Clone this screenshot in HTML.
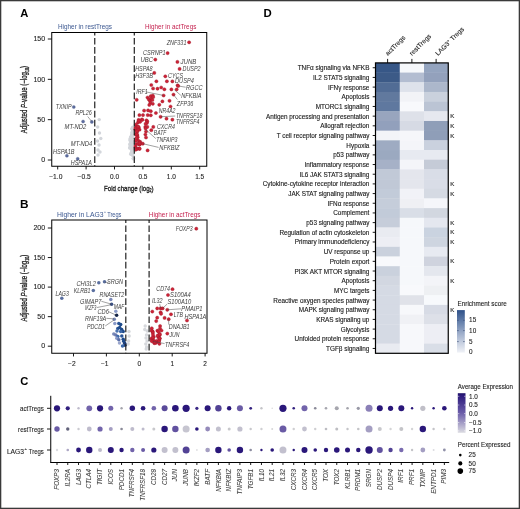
<!DOCTYPE html>
<html><head><meta charset="utf-8"><style>
html,body{margin:0;padding:0;background:#fff;}
svg{display:block;font-family:"Liberation Sans", sans-serif;will-change:transform;}
</style></head><body>
<svg width="520" height="509" viewBox="0 0 520 509" font-family='"Liberation Sans", sans-serif'>
<rect x="0" y="0" width="520" height="509" fill="#fff"/>
<text x="20.30" y="16.80" font-size="11.2" fill="#000" font-weight="bold">A</text>
<text x="19.90" y="208.20" font-size="11.8" fill="#000" font-weight="bold">B</text>
<text x="20.20" y="384.80" font-size="11.2" fill="#000" font-weight="bold">C</text>
<text x="263.40" y="17.30" font-size="11.4" fill="#000" font-weight="bold">D</text>
<defs><clipPath id="ca"><rect x="51.75" y="32.5" width="155.0" height="133.75"/></clipPath><clipPath id="cb"><rect x="51.75" y="220" width="155.25" height="133.25"/></clipPath></defs>
<text x="58.00" y="29.10" font-size="6.6" fill="#3b5790" textLength="54.00" lengthAdjust="spacingAndGlyphs">Higher in restTregs</text>
<text x="145.00" y="29.10" font-size="6.6" fill="#c41e4c" textLength="51.30" lengthAdjust="spacingAndGlyphs">Higher in actTregs</text>
<line x1="47.80" y1="160.00" x2="51.75" y2="160.00" stroke="#000" stroke-width="0.9"/>
<text x="45.10" y="162.20" font-size="7.0" fill="#222" text-anchor="end" stroke="#222" stroke-width="0.1">0</text>
<line x1="47.80" y1="119.66" x2="51.75" y2="119.66" stroke="#000" stroke-width="0.9"/>
<text x="45.10" y="121.86" font-size="7.0" fill="#222" text-anchor="end" stroke="#222" stroke-width="0.1">50</text>
<line x1="47.80" y1="79.33" x2="51.75" y2="79.33" stroke="#000" stroke-width="0.9"/>
<text x="45.10" y="81.53" font-size="7.0" fill="#222" text-anchor="end" stroke="#222" stroke-width="0.1">100</text>
<line x1="47.80" y1="39.00" x2="51.75" y2="39.00" stroke="#000" stroke-width="0.9"/>
<text x="45.10" y="41.20" font-size="7.0" fill="#222" text-anchor="end" stroke="#222" stroke-width="0.1">150</text>
<line x1="57.70" y1="166.25" x2="57.70" y2="169.45" stroke="#000" stroke-width="0.9"/>
<text x="49.15" y="178.50" font-size="6.5" fill="#222" textLength="13.30" lengthAdjust="spacingAndGlyphs" stroke="#222" stroke-width="0.1">−1.0</text>
<line x1="86.10" y1="166.25" x2="86.10" y2="169.45" stroke="#000" stroke-width="0.9"/>
<text x="77.55" y="178.50" font-size="6.5" fill="#222" textLength="13.30" lengthAdjust="spacingAndGlyphs" stroke="#222" stroke-width="0.1">−0.5</text>
<line x1="114.50" y1="166.25" x2="114.50" y2="169.45" stroke="#000" stroke-width="0.9"/>
<text x="114.50" y="178.50" font-size="6.5" fill="#222" text-anchor="middle" stroke="#222" stroke-width="0.1">0.0</text>
<line x1="142.90" y1="166.25" x2="142.90" y2="169.45" stroke="#000" stroke-width="0.9"/>
<text x="142.90" y="178.50" font-size="6.5" fill="#222" text-anchor="middle" stroke="#222" stroke-width="0.1">0.5</text>
<line x1="171.30" y1="166.25" x2="171.30" y2="169.45" stroke="#000" stroke-width="0.9"/>
<text x="171.30" y="178.50" font-size="6.5" fill="#222" text-anchor="middle" stroke="#222" stroke-width="0.1">1.0</text>
<line x1="199.70" y1="166.25" x2="199.70" y2="169.45" stroke="#000" stroke-width="0.9"/>
<text x="199.70" y="178.50" font-size="6.5" fill="#222" text-anchor="middle" stroke="#222" stroke-width="0.1">1.5</text>
<g transform="translate(104,190.8) scale(0.7851,1)"><text x="0" y="0" font-size="7.8" fill="#222" stroke="#222" stroke-width="0.32">Fold change (log<tspan font-size="4.68" dy="1.6">2</tspan><tspan dy="-1.6">)</tspan></text></g>
<g transform="translate(27.2,133.3) rotate(-90) scale(0.6917,1)"><text x="0" y="0" font-size="8.8" fill="#222" stroke="#222" stroke-width="0.32">Adjusted <tspan font-style="italic">P</tspan>-value (−log<tspan font-size="5.28" dy="1.8">10</tspan><tspan dy="-1.8">)</tspan></text></g>
<g clip-path="url(#ca)">
<circle cx="133.03" cy="137.52" r="1.70" fill="#d3d6db"/>
<circle cx="133.31" cy="148.16" r="1.70" fill="#d3d6db"/>
<circle cx="132.07" cy="144.42" r="1.70" fill="#d3d6db"/>
<circle cx="132.55" cy="128.88" r="1.70" fill="#d3d6db"/>
<circle cx="132.78" cy="128.22" r="1.70" fill="#d3d6db"/>
<circle cx="133.40" cy="129.27" r="1.70" fill="#d3d6db"/>
<circle cx="130.20" cy="140.80" r="1.70" fill="#d3d6db"/>
<circle cx="133.03" cy="131.02" r="1.70" fill="#d3d6db"/>
<circle cx="129.79" cy="147.39" r="1.70" fill="#d3d6db"/>
<circle cx="131.96" cy="145.76" r="1.70" fill="#d3d6db"/>
<circle cx="133.51" cy="158.73" r="1.70" fill="#d3d6db"/>
<circle cx="132.79" cy="154.90" r="1.70" fill="#d3d6db"/>
<circle cx="133.28" cy="131.69" r="1.70" fill="#d3d6db"/>
<circle cx="130.56" cy="137.03" r="1.70" fill="#d3d6db"/>
<circle cx="131.87" cy="132.87" r="1.70" fill="#d3d6db"/>
<circle cx="132.11" cy="147.76" r="1.70" fill="#d3d6db"/>
<circle cx="133.34" cy="144.80" r="1.70" fill="#d3d6db"/>
<circle cx="133.17" cy="128.94" r="1.70" fill="#d3d6db"/>
<circle cx="131.96" cy="149.11" r="1.70" fill="#d3d6db"/>
<circle cx="131.41" cy="137.21" r="1.70" fill="#d3d6db"/>
<circle cx="132.35" cy="141.73" r="1.70" fill="#d3d6db"/>
<circle cx="131.33" cy="152.82" r="1.70" fill="#d3d6db"/>
<circle cx="131.66" cy="134.93" r="1.70" fill="#d3d6db"/>
<circle cx="129.93" cy="144.07" r="1.70" fill="#d3d6db"/>
<circle cx="132.56" cy="150.71" r="1.70" fill="#d3d6db"/>
<circle cx="133.38" cy="158.86" r="1.70" fill="#d3d6db"/>
<circle cx="130.50" cy="140.59" r="1.70" fill="#d3d6db"/>
<circle cx="132.24" cy="131.94" r="1.70" fill="#d3d6db"/>
<circle cx="132.32" cy="128.27" r="1.70" fill="#d3d6db"/>
<circle cx="131.64" cy="151.85" r="1.70" fill="#d3d6db"/>
<circle cx="132.76" cy="155.45" r="1.70" fill="#d3d6db"/>
<circle cx="131.36" cy="149.60" r="1.70" fill="#d3d6db"/>
<circle cx="131.71" cy="145.85" r="1.70" fill="#d3d6db"/>
<circle cx="130.82" cy="154.30" r="1.70" fill="#d3d6db"/>
<circle cx="130.82" cy="142.41" r="1.70" fill="#d3d6db"/>
<circle cx="132.14" cy="128.97" r="1.70" fill="#d3d6db"/>
<circle cx="129.67" cy="148.03" r="1.70" fill="#d3d6db"/>
<circle cx="132.73" cy="153.71" r="1.70" fill="#d3d6db"/>
<circle cx="130.91" cy="139.54" r="1.70" fill="#d3d6db"/>
<circle cx="132.78" cy="127.73" r="1.70" fill="#d3d6db"/>
<circle cx="133.26" cy="132.46" r="1.70" fill="#d3d6db"/>
<circle cx="132.01" cy="128.92" r="1.70" fill="#d3d6db"/>
<circle cx="132.95" cy="131.20" r="1.70" fill="#d3d6db"/>
<circle cx="130.09" cy="139.71" r="1.70" fill="#d3d6db"/>
<circle cx="132.59" cy="129.62" r="1.70" fill="#d3d6db"/>
<circle cx="129.91" cy="144.86" r="1.70" fill="#d3d6db"/>
<circle cx="130.94" cy="153.63" r="1.70" fill="#d3d6db"/>
<circle cx="132.12" cy="136.05" r="1.70" fill="#d3d6db"/>
<circle cx="130.13" cy="138.66" r="1.70" fill="#d3d6db"/>
<circle cx="133.29" cy="158.13" r="1.70" fill="#d3d6db"/>
<circle cx="132.92" cy="132.73" r="1.70" fill="#d3d6db"/>
<circle cx="131.99" cy="134.58" r="1.70" fill="#d3d6db"/>
<circle cx="132.52" cy="146.15" r="1.70" fill="#d3d6db"/>
<circle cx="132.92" cy="127.13" r="1.70" fill="#d3d6db"/>
<circle cx="131.35" cy="139.00" r="1.70" fill="#d3d6db"/>
<circle cx="99.20" cy="119.60" r="1.70" fill="#d3d6db"/>
<circle cx="97.70" cy="127.00" r="1.70" fill="#d3d6db"/>
<circle cx="100.80" cy="138.50" r="1.70" fill="#d3d6db"/>
<circle cx="99.00" cy="145.00" r="1.70" fill="#d3d6db"/>
<circle cx="98.00" cy="150.00" r="1.70" fill="#d3d6db"/>
<circle cx="100.00" cy="152.00" r="1.70" fill="#d3d6db"/>
<circle cx="98.00" cy="155.00" r="1.70" fill="#d3d6db"/>
<circle cx="97.50" cy="141.00" r="1.70" fill="#d3d6db"/>
<circle cx="99.50" cy="133.00" r="1.70" fill="#d3d6db"/>
</g>
<g clip-path="url(#ca)">
<circle cx="189.10" cy="42.30" r="1.60" fill="#cc2336" stroke="#a01a2a" stroke-width="0.4"/>
<circle cx="167.60" cy="53.10" r="1.60" fill="#cc2336" stroke="#a01a2a" stroke-width="0.4"/>
<circle cx="155.30" cy="59.60" r="1.60" fill="#cc2336" stroke="#a01a2a" stroke-width="0.4"/>
<circle cx="177.40" cy="61.90" r="1.60" fill="#cc2336" stroke="#a01a2a" stroke-width="0.4"/>
<circle cx="179.60" cy="68.90" r="1.60" fill="#cc2336" stroke="#a01a2a" stroke-width="0.4"/>
<circle cx="154.30" cy="72.90" r="1.60" fill="#cc2336" stroke="#a01a2a" stroke-width="0.4"/>
<circle cx="165.30" cy="76.30" r="1.60" fill="#cc2336" stroke="#a01a2a" stroke-width="0.4"/>
<circle cx="156.40" cy="81.30" r="1.60" fill="#cc2336" stroke="#a01a2a" stroke-width="0.4"/>
<circle cx="166.90" cy="81.30" r="1.60" fill="#cc2336" stroke="#a01a2a" stroke-width="0.4"/>
<circle cx="172.40" cy="81.40" r="1.60" fill="#cc2336" stroke="#a01a2a" stroke-width="0.4"/>
<circle cx="151.30" cy="85.00" r="1.60" fill="#cc2336" stroke="#a01a2a" stroke-width="0.4"/>
<circle cx="153.10" cy="88.50" r="1.60" fill="#cc2336" stroke="#a01a2a" stroke-width="0.4"/>
<circle cx="157.50" cy="88.70" r="1.60" fill="#cc2336" stroke="#a01a2a" stroke-width="0.4"/>
<circle cx="161.20" cy="87.50" r="1.60" fill="#cc2336" stroke="#a01a2a" stroke-width="0.4"/>
<circle cx="164.40" cy="89.30" r="1.60" fill="#cc2336" stroke="#a01a2a" stroke-width="0.4"/>
<circle cx="171.40" cy="89.40" r="1.60" fill="#cc2336" stroke="#a01a2a" stroke-width="0.4"/>
<circle cx="177.60" cy="85.30" r="1.60" fill="#cc2336" stroke="#a01a2a" stroke-width="0.4"/>
<circle cx="176.70" cy="89.40" r="1.60" fill="#cc2336" stroke="#a01a2a" stroke-width="0.4"/>
<circle cx="178.20" cy="86.00" r="1.60" fill="#cc2336" stroke="#a01a2a" stroke-width="0.4"/>
<circle cx="163.60" cy="95.50" r="1.60" fill="#cc2336" stroke="#a01a2a" stroke-width="0.4"/>
<circle cx="173.50" cy="94.60" r="1.60" fill="#cc2336" stroke="#a01a2a" stroke-width="0.4"/>
<circle cx="136.70" cy="99.80" r="1.60" fill="#cc2336" stroke="#a01a2a" stroke-width="0.4"/>
<circle cx="162.40" cy="101.40" r="1.60" fill="#cc2336" stroke="#a01a2a" stroke-width="0.4"/>
<circle cx="159.30" cy="104.80" r="1.60" fill="#cc2336" stroke="#a01a2a" stroke-width="0.4"/>
<circle cx="169.50" cy="100.80" r="1.60" fill="#cc2336" stroke="#a01a2a" stroke-width="0.4"/>
<circle cx="170.50" cy="106.50" r="1.60" fill="#cc2336" stroke="#a01a2a" stroke-width="0.4"/>
<circle cx="147.50" cy="97.50" r="1.60" fill="#cc2336" stroke="#a01a2a" stroke-width="0.4"/>
<circle cx="150.70" cy="96.20" r="1.60" fill="#cc2336" stroke="#a01a2a" stroke-width="0.4"/>
<circle cx="152.80" cy="95.50" r="1.60" fill="#cc2336" stroke="#a01a2a" stroke-width="0.4"/>
<circle cx="148.80" cy="99.40" r="1.60" fill="#cc2336" stroke="#a01a2a" stroke-width="0.4"/>
<circle cx="151.20" cy="98.70" r="1.60" fill="#cc2336" stroke="#a01a2a" stroke-width="0.4"/>
<circle cx="153.20" cy="97.10" r="1.60" fill="#cc2336" stroke="#a01a2a" stroke-width="0.4"/>
<circle cx="150.00" cy="101.00" r="1.60" fill="#cc2336" stroke="#a01a2a" stroke-width="0.4"/>
<circle cx="152.40" cy="100.00" r="1.60" fill="#cc2336" stroke="#a01a2a" stroke-width="0.4"/>
<circle cx="150.40" cy="103.00" r="1.60" fill="#cc2336" stroke="#a01a2a" stroke-width="0.4"/>
<circle cx="152.80" cy="103.80" r="1.60" fill="#cc2336" stroke="#a01a2a" stroke-width="0.4"/>
<circle cx="149.30" cy="104.90" r="1.60" fill="#cc2336" stroke="#a01a2a" stroke-width="0.4"/>
<circle cx="144.10" cy="110.60" r="1.60" fill="#cc2336" stroke="#a01a2a" stroke-width="0.4"/>
<circle cx="148.10" cy="110.40" r="1.60" fill="#cc2336" stroke="#a01a2a" stroke-width="0.4"/>
<circle cx="150.80" cy="111.20" r="1.60" fill="#cc2336" stroke="#a01a2a" stroke-width="0.4"/>
<circle cx="155.90" cy="113.00" r="1.60" fill="#cc2336" stroke="#a01a2a" stroke-width="0.4"/>
<circle cx="139.40" cy="115.10" r="1.60" fill="#cc2336" stroke="#a01a2a" stroke-width="0.4"/>
<circle cx="143.00" cy="115.10" r="1.60" fill="#cc2336" stroke="#a01a2a" stroke-width="0.4"/>
<circle cx="147.70" cy="115.10" r="1.60" fill="#cc2336" stroke="#a01a2a" stroke-width="0.4"/>
<circle cx="150.80" cy="115.30" r="1.60" fill="#cc2336" stroke="#a01a2a" stroke-width="0.4"/>
<circle cx="160.60" cy="116.80" r="1.60" fill="#cc2336" stroke="#a01a2a" stroke-width="0.4"/>
<circle cx="166.50" cy="118.70" r="1.60" fill="#cc2336" stroke="#a01a2a" stroke-width="0.4"/>
<circle cx="172.40" cy="119.70" r="1.60" fill="#cc2336" stroke="#a01a2a" stroke-width="0.4"/>
<circle cx="138.60" cy="119.90" r="1.60" fill="#cc2336" stroke="#a01a2a" stroke-width="0.4"/>
<circle cx="141.80" cy="119.50" r="1.60" fill="#cc2336" stroke="#a01a2a" stroke-width="0.4"/>
<circle cx="146.50" cy="120.30" r="1.60" fill="#cc2336" stroke="#a01a2a" stroke-width="0.4"/>
<circle cx="147.30" cy="121.40" r="1.60" fill="#cc2336" stroke="#a01a2a" stroke-width="0.4"/>
<circle cx="140.20" cy="121.80" r="1.60" fill="#cc2336" stroke="#a01a2a" stroke-width="0.4"/>
<circle cx="137.90" cy="122.60" r="1.60" fill="#cc2336" stroke="#a01a2a" stroke-width="0.4"/>
<circle cx="146.90" cy="123.00" r="1.60" fill="#cc2336" stroke="#a01a2a" stroke-width="0.4"/>
<circle cx="135.90" cy="124.60" r="1.60" fill="#cc2336" stroke="#a01a2a" stroke-width="0.4"/>
<circle cx="137.90" cy="127.30" r="1.60" fill="#cc2336" stroke="#a01a2a" stroke-width="0.4"/>
<circle cx="145.30" cy="126.90" r="1.60" fill="#cc2336" stroke="#a01a2a" stroke-width="0.4"/>
<circle cx="147.30" cy="126.90" r="1.60" fill="#cc2336" stroke="#a01a2a" stroke-width="0.4"/>
<circle cx="153.30" cy="126.90" r="1.60" fill="#cc2336" stroke="#a01a2a" stroke-width="0.4"/>
<circle cx="151.30" cy="130.20" r="1.60" fill="#cc2336" stroke="#a01a2a" stroke-width="0.4"/>
<circle cx="142.40" cy="119.80" r="1.60" fill="#cc2336" stroke="#a01a2a" stroke-width="0.4"/>
<circle cx="145.60" cy="123.80" r="1.60" fill="#cc2336" stroke="#a01a2a" stroke-width="0.4"/>
<circle cx="145.60" cy="128.50" r="1.60" fill="#cc2336" stroke="#a01a2a" stroke-width="0.4"/>
<circle cx="146.00" cy="131.50" r="1.60" fill="#cc2336" stroke="#a01a2a" stroke-width="0.4"/>
<circle cx="145.40" cy="134.50" r="1.60" fill="#cc2336" stroke="#a01a2a" stroke-width="0.4"/>
<circle cx="146.00" cy="137.50" r="1.60" fill="#cc2336" stroke="#a01a2a" stroke-width="0.4"/>
<circle cx="142.80" cy="143.70" r="1.60" fill="#cc2336" stroke="#a01a2a" stroke-width="0.4"/>
<circle cx="147.60" cy="150.40" r="1.60" fill="#cc2336" stroke="#a01a2a" stroke-width="0.4"/>
<circle cx="138.80" cy="120.70" r="1.60" fill="#cc2336" stroke="#a01a2a" stroke-width="0.4"/>
<circle cx="140.16" cy="141.88" r="1.60" fill="#cc2336" stroke="#a01a2a" stroke-width="0.4"/>
<circle cx="137.93" cy="140.20" r="1.60" fill="#cc2336" stroke="#a01a2a" stroke-width="0.4"/>
<circle cx="138.75" cy="127.24" r="1.60" fill="#cc2336" stroke="#a01a2a" stroke-width="0.4"/>
<circle cx="139.89" cy="143.94" r="1.60" fill="#cc2336" stroke="#a01a2a" stroke-width="0.4"/>
<circle cx="139.76" cy="144.35" r="1.60" fill="#cc2336" stroke="#a01a2a" stroke-width="0.4"/>
<circle cx="137.30" cy="135.18" r="1.60" fill="#cc2336" stroke="#a01a2a" stroke-width="0.4"/>
<circle cx="135.83" cy="140.59" r="1.60" fill="#cc2336" stroke="#a01a2a" stroke-width="0.4"/>
<circle cx="135.62" cy="127.55" r="1.60" fill="#cc2336" stroke="#a01a2a" stroke-width="0.4"/>
<circle cx="136.36" cy="129.73" r="1.60" fill="#cc2336" stroke="#a01a2a" stroke-width="0.4"/>
<circle cx="137.03" cy="127.21" r="1.60" fill="#cc2336" stroke="#a01a2a" stroke-width="0.4"/>
<circle cx="135.30" cy="129.48" r="1.60" fill="#cc2336" stroke="#a01a2a" stroke-width="0.4"/>
<circle cx="135.82" cy="134.36" r="1.60" fill="#cc2336" stroke="#a01a2a" stroke-width="0.4"/>
<circle cx="135.43" cy="146.11" r="1.60" fill="#cc2336" stroke="#a01a2a" stroke-width="0.4"/>
<circle cx="138.43" cy="129.42" r="1.60" fill="#cc2336" stroke="#a01a2a" stroke-width="0.4"/>
<circle cx="136.59" cy="133.99" r="1.60" fill="#cc2336" stroke="#a01a2a" stroke-width="0.4"/>
<circle cx="137.16" cy="128.83" r="1.60" fill="#cc2336" stroke="#a01a2a" stroke-width="0.4"/>
<circle cx="139.63" cy="148.84" r="1.60" fill="#cc2336" stroke="#a01a2a" stroke-width="0.4"/>
<circle cx="137.68" cy="137.13" r="1.60" fill="#cc2336" stroke="#a01a2a" stroke-width="0.4"/>
<circle cx="135.74" cy="128.35" r="1.60" fill="#cc2336" stroke="#a01a2a" stroke-width="0.4"/>
<circle cx="137.05" cy="132.09" r="1.60" fill="#cc2336" stroke="#a01a2a" stroke-width="0.4"/>
<circle cx="139.53" cy="129.71" r="1.60" fill="#cc2336" stroke="#a01a2a" stroke-width="0.4"/>
<circle cx="135.42" cy="147.87" r="1.60" fill="#cc2336" stroke="#a01a2a" stroke-width="0.4"/>
<circle cx="137.99" cy="129.37" r="1.60" fill="#cc2336" stroke="#a01a2a" stroke-width="0.4"/>
<circle cx="138.07" cy="126.62" r="1.60" fill="#cc2336" stroke="#a01a2a" stroke-width="0.4"/>
<circle cx="137.99" cy="148.51" r="1.60" fill="#cc2336" stroke="#a01a2a" stroke-width="0.4"/>
<circle cx="139.70" cy="142.01" r="1.60" fill="#cc2336" stroke="#a01a2a" stroke-width="0.4"/>
<circle cx="136.63" cy="134.43" r="1.60" fill="#cc2336" stroke="#a01a2a" stroke-width="0.4"/>
<circle cx="136.15" cy="143.75" r="1.60" fill="#cc2336" stroke="#a01a2a" stroke-width="0.4"/>
<circle cx="138.02" cy="143.92" r="1.60" fill="#cc2336" stroke="#a01a2a" stroke-width="0.4"/>
<circle cx="136.98" cy="131.13" r="1.60" fill="#cc2336" stroke="#a01a2a" stroke-width="0.4"/>
<circle cx="139.44" cy="148.65" r="1.60" fill="#cc2336" stroke="#a01a2a" stroke-width="0.4"/>
<circle cx="139.65" cy="144.54" r="1.60" fill="#cc2336" stroke="#a01a2a" stroke-width="0.4"/>
<circle cx="139.47" cy="143.02" r="1.60" fill="#cc2336" stroke="#a01a2a" stroke-width="0.4"/>
<circle cx="136.46" cy="137.91" r="1.60" fill="#cc2336" stroke="#a01a2a" stroke-width="0.4"/>
<circle cx="136.74" cy="149.07" r="1.60" fill="#cc2336" stroke="#a01a2a" stroke-width="0.4"/>
<circle cx="135.60" cy="149.70" r="1.60" fill="#cc2336" stroke="#a01a2a" stroke-width="0.4"/>
</g>
<circle cx="73.80" cy="107.00" r="1.55" fill="#5d6c9e" stroke="#445484" stroke-width="0.3"/>
<circle cx="83.10" cy="121.50" r="1.55" fill="#5d6c9e" stroke="#445484" stroke-width="0.3"/>
<circle cx="91.80" cy="121.90" r="1.55" fill="#5d6c9e" stroke="#445484" stroke-width="0.3"/>
<circle cx="66.90" cy="155.80" r="1.55" fill="#5d6c9e" stroke="#445484" stroke-width="0.3"/>
<circle cx="77.70" cy="158.80" r="1.55" fill="#5d6c9e" stroke="#445484" stroke-width="0.3"/>
<line x1="94.75" y1="32.50" x2="94.75" y2="166.25" stroke="#222" stroke-width="1.2" stroke-dasharray="6.7 2.4" stroke-dashoffset="3.7"/>
<line x1="134.30" y1="32.50" x2="134.30" y2="166.25" stroke="#222" stroke-width="1.2" stroke-dasharray="6.7 2.4" stroke-dashoffset="3.7"/>
<line x1="87.70" y1="116.50" x2="91.60" y2="121.30" stroke="#444" stroke-width="0.5"/>
<line x1="145.50" y1="91.80" x2="163.40" y2="95.40" stroke="#444" stroke-width="0.5"/>
<line x1="174.40" y1="89.80" x2="180.90" y2="95.40" stroke="#444" stroke-width="0.5"/>
<line x1="173.60" y1="94.80" x2="177.40" y2="99.60" stroke="#444" stroke-width="0.5"/>
<line x1="161.00" y1="116.70" x2="175.20" y2="116.00" stroke="#444" stroke-width="0.5"/>
<line x1="146.00" y1="129.80" x2="155.80" y2="138.60" stroke="#444" stroke-width="0.5"/>
<line x1="142.80" y1="143.70" x2="158.60" y2="147.40" stroke="#444" stroke-width="0.5"/>
<line x1="179.50" y1="86.20" x2="185.60" y2="87.20" stroke="#444" stroke-width="0.5"/>
<text x="166.80" y="44.55" font-size="6.3" fill="#404040" font-style="italic" textLength="19.60" lengthAdjust="spacingAndGlyphs">ZNF331</text>
<text x="143.00" y="55.35" font-size="6.3" fill="#404040" font-style="italic" textLength="22.50" lengthAdjust="spacingAndGlyphs">CSRNP1</text>
<text x="140.50" y="62.05" font-size="6.3" fill="#404040" font-style="italic" textLength="12.50" lengthAdjust="spacingAndGlyphs">UBC</text>
<text x="180.50" y="64.35" font-size="6.3" fill="#404040" font-style="italic" textLength="15.80" lengthAdjust="spacingAndGlyphs">JUNB</text>
<text x="182.50" y="71.05" font-size="6.3" fill="#404040" font-style="italic" textLength="18.10" lengthAdjust="spacingAndGlyphs">DUSP2</text>
<text x="135.20" y="71.05" font-size="6.3" fill="#404040" font-style="italic" textLength="17.40" lengthAdjust="spacingAndGlyphs">HSPA8</text>
<text x="135.20" y="78.45" font-size="6.3" fill="#404040" font-style="italic" textLength="17.80" lengthAdjust="spacingAndGlyphs">H3F3B</text>
<text x="168.00" y="77.85" font-size="6.3" fill="#404040" font-style="italic" textLength="15.00" lengthAdjust="spacingAndGlyphs">CYCS</text>
<text x="175.00" y="82.95" font-size="6.3" fill="#404040" font-style="italic" textLength="18.80" lengthAdjust="spacingAndGlyphs">DUSP4</text>
<text x="186.00" y="89.75" font-size="6.3" fill="#404040" font-style="italic" textLength="16.60" lengthAdjust="spacingAndGlyphs">RGCC</text>
<text x="136.20" y="94.45" font-size="6.3" fill="#404040" font-style="italic" textLength="11.40" lengthAdjust="spacingAndGlyphs">IRF1</text>
<text x="181.20" y="98.25" font-size="6.3" fill="#404040" font-style="italic" textLength="20.40" lengthAdjust="spacingAndGlyphs">NFKBIA</text>
<text x="176.80" y="105.55" font-size="6.3" fill="#404040" font-style="italic" textLength="16.50" lengthAdjust="spacingAndGlyphs">ZFP36</text>
<text x="158.80" y="113.25" font-size="6.3" fill="#404040" font-style="italic" textLength="16.70" lengthAdjust="spacingAndGlyphs">NR4A2</text>
<text x="175.90" y="117.85" font-size="6.3" fill="#404040" font-style="italic" textLength="26.50" lengthAdjust="spacingAndGlyphs">TNFRSF18</text>
<text x="175.90" y="124.25" font-size="6.3" fill="#404040" font-style="italic" textLength="23.60" lengthAdjust="spacingAndGlyphs">TNFRSF4</text>
<text x="157.00" y="129.25" font-size="6.3" fill="#404040" font-style="italic" textLength="18.00" lengthAdjust="spacingAndGlyphs">CXCR4</text>
<text x="153.80" y="134.75" font-size="6.3" fill="#404040" font-style="italic" textLength="12.50" lengthAdjust="spacingAndGlyphs">BATF</text>
<text x="156.30" y="141.55" font-size="6.3" fill="#404040" font-style="italic" textLength="21.20" lengthAdjust="spacingAndGlyphs">TNFAIP3</text>
<text x="159.30" y="150.25" font-size="6.3" fill="#404040" font-style="italic" textLength="20.30" lengthAdjust="spacingAndGlyphs">NFKBIZ</text>
<text x="55.80" y="109.25" font-size="6.3" fill="#404040" font-style="italic" textLength="15.70" lengthAdjust="spacingAndGlyphs">TXNIP</text>
<text x="75.40" y="114.95" font-size="6.3" fill="#404040" font-style="italic" textLength="16.40" lengthAdjust="spacingAndGlyphs">RPL26</text>
<text x="64.60" y="129.05" font-size="6.3" fill="#404040" font-style="italic" textLength="21.60" lengthAdjust="spacingAndGlyphs">MT-ND2</text>
<text x="70.80" y="146.45" font-size="6.3" fill="#404040" font-style="italic" textLength="21.50" lengthAdjust="spacingAndGlyphs">MT-ND4</text>
<text x="53.00" y="153.85" font-size="6.3" fill="#404040" font-style="italic" textLength="21.60" lengthAdjust="spacingAndGlyphs">HSPA1B</text>
<text x="70.80" y="164.95" font-size="6.3" fill="#404040" font-style="italic" textLength="21.00" lengthAdjust="spacingAndGlyphs">HSPA1A</text>
<rect x="51.75" y="32.50" width="155.00" height="133.75" fill="none" stroke="#000" stroke-width="1.0"/>
<text x="57.00" y="216.60" font-size="6.6" fill="#3b5790" textLength="46.50" lengthAdjust="spacingAndGlyphs">Higher in LAG3</text>
<text x="103.80" y="213.30" font-size="4.2" fill="#3b5790">+</text>
<text x="107.20" y="216.60" font-size="6.6" fill="#3b5790" textLength="14.20" lengthAdjust="spacingAndGlyphs">Tregs</text>
<text x="148.80" y="216.60" font-size="6.6" fill="#c41e4c" textLength="51.70" lengthAdjust="spacingAndGlyphs">Higher in actTregs</text>
<line x1="47.80" y1="346.20" x2="51.75" y2="346.20" stroke="#000" stroke-width="0.9"/>
<text x="45.10" y="348.40" font-size="7.0" fill="#222" text-anchor="end" stroke="#222" stroke-width="0.1">0</text>
<line x1="47.80" y1="316.65" x2="51.75" y2="316.65" stroke="#000" stroke-width="0.9"/>
<text x="45.10" y="318.85" font-size="7.0" fill="#222" text-anchor="end" stroke="#222" stroke-width="0.1">50</text>
<line x1="47.80" y1="287.10" x2="51.75" y2="287.10" stroke="#000" stroke-width="0.9"/>
<text x="45.10" y="289.30" font-size="7.0" fill="#222" text-anchor="end" stroke="#222" stroke-width="0.1">100</text>
<line x1="47.80" y1="257.55" x2="51.75" y2="257.55" stroke="#000" stroke-width="0.9"/>
<text x="45.10" y="259.75" font-size="7.0" fill="#222" text-anchor="end" stroke="#222" stroke-width="0.1">150</text>
<line x1="47.80" y1="228.00" x2="51.75" y2="228.00" stroke="#000" stroke-width="0.9"/>
<text x="45.10" y="230.20" font-size="7.0" fill="#222" text-anchor="end" stroke="#222" stroke-width="0.1">200</text>
<line x1="73.50" y1="353.25" x2="73.50" y2="356.45" stroke="#000" stroke-width="0.9"/>
<text x="68.00" y="366.20" font-size="6.5" fill="#222" textLength="7.60" lengthAdjust="spacingAndGlyphs" stroke="#222" stroke-width="0.1">−2</text>
<line x1="106.40" y1="353.25" x2="106.40" y2="356.45" stroke="#000" stroke-width="0.9"/>
<text x="100.90" y="366.20" font-size="6.5" fill="#222" textLength="7.60" lengthAdjust="spacingAndGlyphs" stroke="#222" stroke-width="0.1">−1</text>
<line x1="139.30" y1="353.25" x2="139.30" y2="356.45" stroke="#000" stroke-width="0.9"/>
<text x="139.30" y="366.20" font-size="6.5" fill="#222" text-anchor="middle" stroke="#222" stroke-width="0.1">0</text>
<line x1="172.20" y1="353.25" x2="172.20" y2="356.45" stroke="#000" stroke-width="0.9"/>
<text x="172.20" y="366.20" font-size="6.5" fill="#222" text-anchor="middle" stroke="#222" stroke-width="0.1">1</text>
<line x1="205.10" y1="353.25" x2="205.10" y2="356.45" stroke="#000" stroke-width="0.9"/>
<text x="205.10" y="366.20" font-size="6.5" fill="#222" text-anchor="middle" stroke="#222" stroke-width="0.1">2</text>
<g transform="translate(27.0,321.5) rotate(-90) scale(0.6845,1)"><text x="0" y="0" font-size="8.8" fill="#222" stroke="#222" stroke-width="0.32">Adjusted <tspan font-style="italic">P</tspan>-value (−log<tspan font-size="5.28" dy="1.8">10</tspan><tspan dy="-1.8">)</tspan></text></g>
<g clip-path="url(#cb)">
<circle cx="145.20" cy="326.00" r="1.70" fill="#d6d8dc"/>
<circle cx="146.50" cy="335.00" r="1.70" fill="#d6d8dc"/>
<circle cx="146.00" cy="338.00" r="1.70" fill="#d6d8dc"/>
<circle cx="147.00" cy="341.00" r="1.70" fill="#d6d8dc"/>
<circle cx="145.80" cy="344.00" r="1.70" fill="#d6d8dc"/>
<circle cx="146.60" cy="347.00" r="1.70" fill="#d6d8dc"/>
<circle cx="147.20" cy="331.00" r="1.70" fill="#d6d8dc"/>
<circle cx="144.80" cy="329.50" r="1.70" fill="#d6d8dc"/>
<circle cx="146.20" cy="349.00" r="1.70" fill="#d6d8dc"/>
<circle cx="129.00" cy="331.50" r="1.70" fill="#d6d8dc"/>
<circle cx="128.60" cy="341.00" r="1.70" fill="#d6d8dc"/>
<circle cx="128.20" cy="344.00" r="1.70" fill="#d6d8dc"/>
<circle cx="129.20" cy="336.00" r="1.70" fill="#d6d8dc"/>
</g>
<g clip-path="url(#cb)">
<circle cx="196.30" cy="228.70" r="1.60" fill="#cc2336" stroke="#a01a2a" stroke-width="0.4"/>
<circle cx="172.50" cy="289.20" r="1.60" fill="#cc2336" stroke="#a01a2a" stroke-width="0.4"/>
<circle cx="168.00" cy="295.00" r="1.60" fill="#cc2336" stroke="#a01a2a" stroke-width="0.4"/>
<circle cx="157.20" cy="308.40" r="1.60" fill="#cc2336" stroke="#a01a2a" stroke-width="0.4"/>
<circle cx="160.60" cy="308.40" r="1.60" fill="#cc2336" stroke="#a01a2a" stroke-width="0.4"/>
<circle cx="162.60" cy="308.40" r="1.60" fill="#cc2336" stroke="#a01a2a" stroke-width="0.4"/>
<circle cx="152.30" cy="311.60" r="1.60" fill="#cc2336" stroke="#a01a2a" stroke-width="0.4"/>
<circle cx="160.60" cy="312.30" r="1.60" fill="#cc2336" stroke="#a01a2a" stroke-width="0.4"/>
<circle cx="161.10" cy="313.80" r="1.60" fill="#cc2336" stroke="#a01a2a" stroke-width="0.4"/>
<circle cx="167.30" cy="309.80" r="1.60" fill="#cc2336" stroke="#a01a2a" stroke-width="0.4"/>
<circle cx="171.00" cy="314.30" r="1.60" fill="#cc2336" stroke="#a01a2a" stroke-width="0.4"/>
<circle cx="187.00" cy="320.50" r="1.60" fill="#cc2336" stroke="#a01a2a" stroke-width="0.4"/>
<circle cx="157.20" cy="317.70" r="1.60" fill="#cc2336" stroke="#a01a2a" stroke-width="0.4"/>
<circle cx="164.60" cy="317.90" r="1.60" fill="#cc2336" stroke="#a01a2a" stroke-width="0.4"/>
<circle cx="168.70" cy="319.20" r="1.60" fill="#cc2336" stroke="#a01a2a" stroke-width="0.4"/>
<circle cx="156.20" cy="321.10" r="1.60" fill="#cc2336" stroke="#a01a2a" stroke-width="0.4"/>
<circle cx="160.10" cy="326.00" r="1.60" fill="#cc2336" stroke="#a01a2a" stroke-width="0.4"/>
<circle cx="167.30" cy="333.60" r="1.60" fill="#cc2336" stroke="#a01a2a" stroke-width="0.4"/>
<circle cx="158.20" cy="337.10" r="1.60" fill="#cc2336" stroke="#a01a2a" stroke-width="0.4"/>
<circle cx="160.00" cy="328.50" r="1.60" fill="#cc2336" stroke="#a01a2a" stroke-width="0.4"/>
<circle cx="161.50" cy="330.50" r="1.60" fill="#cc2336" stroke="#a01a2a" stroke-width="0.4"/>
<circle cx="152.96" cy="339.08" r="1.60" fill="#cc2336" stroke="#a01a2a" stroke-width="0.4"/>
<circle cx="159.59" cy="335.16" r="1.60" fill="#cc2336" stroke="#a01a2a" stroke-width="0.4"/>
<circle cx="159.40" cy="343.81" r="1.60" fill="#cc2336" stroke="#a01a2a" stroke-width="0.4"/>
<circle cx="159.57" cy="333.83" r="1.60" fill="#cc2336" stroke="#a01a2a" stroke-width="0.4"/>
<circle cx="152.59" cy="331.63" r="1.60" fill="#cc2336" stroke="#a01a2a" stroke-width="0.4"/>
<circle cx="152.37" cy="331.27" r="1.60" fill="#cc2336" stroke="#a01a2a" stroke-width="0.4"/>
<circle cx="156.43" cy="342.40" r="1.60" fill="#cc2336" stroke="#a01a2a" stroke-width="0.4"/>
<circle cx="158.48" cy="335.67" r="1.60" fill="#cc2336" stroke="#a01a2a" stroke-width="0.4"/>
<circle cx="156.70" cy="340.79" r="1.60" fill="#cc2336" stroke="#a01a2a" stroke-width="0.4"/>
<circle cx="151.31" cy="338.57" r="1.60" fill="#cc2336" stroke="#a01a2a" stroke-width="0.4"/>
<circle cx="159.14" cy="340.52" r="1.60" fill="#cc2336" stroke="#a01a2a" stroke-width="0.4"/>
<circle cx="157.63" cy="335.65" r="1.60" fill="#cc2336" stroke="#a01a2a" stroke-width="0.4"/>
<circle cx="152.20" cy="340.63" r="1.60" fill="#cc2336" stroke="#a01a2a" stroke-width="0.4"/>
<circle cx="153.66" cy="340.81" r="1.60" fill="#cc2336" stroke="#a01a2a" stroke-width="0.4"/>
<circle cx="159.73" cy="334.33" r="1.60" fill="#cc2336" stroke="#a01a2a" stroke-width="0.4"/>
<circle cx="154.31" cy="343.15" r="1.60" fill="#cc2336" stroke="#a01a2a" stroke-width="0.4"/>
<circle cx="157.39" cy="330.72" r="1.60" fill="#cc2336" stroke="#a01a2a" stroke-width="0.4"/>
<circle cx="151.71" cy="330.42" r="1.60" fill="#cc2336" stroke="#a01a2a" stroke-width="0.4"/>
<circle cx="159.10" cy="340.90" r="1.60" fill="#cc2336" stroke="#a01a2a" stroke-width="0.4"/>
<circle cx="151.89" cy="341.22" r="1.60" fill="#cc2336" stroke="#a01a2a" stroke-width="0.4"/>
<circle cx="159.81" cy="338.52" r="1.60" fill="#cc2336" stroke="#a01a2a" stroke-width="0.4"/>
<circle cx="153.83" cy="336.78" r="1.60" fill="#cc2336" stroke="#a01a2a" stroke-width="0.4"/>
<circle cx="151.74" cy="328.23" r="1.60" fill="#cc2336" stroke="#a01a2a" stroke-width="0.4"/>
<circle cx="159.72" cy="338.39" r="1.60" fill="#cc2336" stroke="#a01a2a" stroke-width="0.4"/>
<circle cx="155.50" cy="342.94" r="1.60" fill="#cc2336" stroke="#a01a2a" stroke-width="0.4"/>
<circle cx="154.62" cy="341.95" r="1.60" fill="#cc2336" stroke="#a01a2a" stroke-width="0.4"/>
<circle cx="158.35" cy="331.38" r="1.60" fill="#cc2336" stroke="#a01a2a" stroke-width="0.4"/>
<circle cx="152.89" cy="332.69" r="1.60" fill="#cc2336" stroke="#a01a2a" stroke-width="0.4"/>
<circle cx="152.79" cy="337.38" r="1.60" fill="#cc2336" stroke="#a01a2a" stroke-width="0.4"/>
<circle cx="152.96" cy="334.70" r="1.60" fill="#cc2336" stroke="#a01a2a" stroke-width="0.4"/>
</g>
<circle cx="61.80" cy="298.30" r="1.75" fill="#5a6fa0"/>
<circle cx="93.30" cy="290.50" r="1.75" fill="#5a6fa0"/>
<circle cx="98.80" cy="282.80" r="1.75" fill="#5a6fa0"/>
<circle cx="104.50" cy="281.80" r="1.75" fill="#5a6fa0"/>
<circle cx="110.80" cy="299.50" r="1.75" fill="#7a88b8"/>
<circle cx="111.60" cy="304.30" r="1.75" fill="#3a4f80"/>
<circle cx="115.80" cy="311.30" r="1.75" fill="#8a9ac8"/>
<circle cx="116.60" cy="315.30" r="1.75" fill="#15254a"/>
<circle cx="114.30" cy="319.20" r="1.75" fill="#7a8ab8"/>
<circle cx="114.80" cy="323.60" r="1.75" fill="#8a9ac8"/>
<circle cx="118.80" cy="323.60" r="1.75" fill="#2a5597"/>
<circle cx="120.70" cy="324.60" r="1.75" fill="#1e4a8a"/>
<circle cx="117.80" cy="328.50" r="1.75" fill="#2a5597"/>
<circle cx="119.70" cy="327.50" r="1.75" fill="#1e4a8a"/>
<circle cx="121.70" cy="329.50" r="1.75" fill="#1e4a8a"/>
<circle cx="123.20" cy="331.50" r="1.75" fill="#1e4a8a"/>
<circle cx="120.70" cy="331.50" r="1.75" fill="#3a66a8"/>
<circle cx="113.80" cy="333.90" r="1.75" fill="#7a8ab8"/>
<circle cx="115.80" cy="334.90" r="1.75" fill="#6a7ab0"/>
<circle cx="117.80" cy="336.40" r="1.75" fill="#3a66a8"/>
<circle cx="116.80" cy="338.30" r="1.75" fill="#8a9ac8"/>
<circle cx="118.80" cy="339.80" r="1.75" fill="#5a6fa8"/>
<circle cx="123.20" cy="339.30" r="1.75" fill="#1e4a8a"/>
<circle cx="123.70" cy="341.30" r="1.75" fill="#1e4a8a"/>
<circle cx="124.70" cy="343.30" r="1.75" fill="#1e3f7a"/>
<circle cx="125.00" cy="345.20" r="1.75" fill="#1e3f7a"/>
<circle cx="121.80" cy="336.00" r="1.75" fill="#2a5597"/>
<circle cx="119.50" cy="343.00" r="1.75" fill="#9aa6cc"/>
<circle cx="122.50" cy="346.00" r="1.75" fill="#3a66a8"/>
<circle cx="117.00" cy="331.00" r="1.75" fill="#4a72b0"/>
<line x1="125.80" y1="220.00" x2="125.80" y2="353.25" stroke="#222" stroke-width="1.2" stroke-dasharray="6.7 2.4" stroke-dashoffset="3.7"/>
<line x1="149.10" y1="220.00" x2="149.10" y2="353.25" stroke="#222" stroke-width="1.2" stroke-dasharray="6.7 2.4" stroke-dashoffset="3.7"/>
<line x1="101.40" y1="301.30" x2="111.00" y2="304.00" stroke="#444" stroke-width="0.5"/>
<line x1="96.60" y1="307.60" x2="110.80" y2="304.80" stroke="#444" stroke-width="0.5"/>
<line x1="108.80" y1="311.80" x2="115.80" y2="315.00" stroke="#444" stroke-width="0.5"/>
<line x1="106.40" y1="318.30" x2="114.00" y2="318.90" stroke="#444" stroke-width="0.5"/>
<line x1="105.20" y1="326.00" x2="114.30" y2="319.80" stroke="#444" stroke-width="0.5"/>
<line x1="159.70" y1="304.00" x2="160.60" y2="308.40" stroke="#444" stroke-width="0.5"/>
<line x1="167.20" y1="304.00" x2="162.60" y2="308.40" stroke="#444" stroke-width="0.5"/>
<line x1="167.30" y1="309.80" x2="181.00" y2="308.80" stroke="#444" stroke-width="0.5"/>
<line x1="168.70" y1="319.20" x2="168.70" y2="324.60" stroke="#444" stroke-width="0.5"/>
<line x1="152.80" y1="341.30" x2="164.60" y2="343.60" stroke="#444" stroke-width="0.5"/>
<line x1="108.60" y1="282.80" x2="104.60" y2="282.00" stroke="#444" stroke-width="0.5"/>
<text x="175.80" y="231.05" font-size="6.3" fill="#404040" font-style="italic" textLength="16.70" lengthAdjust="spacingAndGlyphs">FOXP3</text>
<text x="156.30" y="291.35" font-size="6.3" fill="#404040" font-style="italic" textLength="13.70" lengthAdjust="spacingAndGlyphs">CD74</text>
<text x="170.00" y="297.25" font-size="6.3" fill="#404040" font-style="italic" textLength="20.80" lengthAdjust="spacingAndGlyphs">S100A4</text>
<text x="152.00" y="302.75" font-size="6.3" fill="#404040" font-style="italic" textLength="10.50" lengthAdjust="spacingAndGlyphs">IL32</text>
<text x="167.50" y="304.05" font-size="6.3" fill="#404040" font-style="italic" textLength="23.80" lengthAdjust="spacingAndGlyphs">S100A10</text>
<text x="181.30" y="311.05" font-size="6.3" fill="#404040" font-style="italic" textLength="21.20" lengthAdjust="spacingAndGlyphs">PMAIP1</text>
<text x="173.80" y="317.25" font-size="6.3" fill="#404040" font-style="italic" textLength="9.20" lengthAdjust="spacingAndGlyphs">LTB</text>
<text x="184.50" y="318.75" font-size="6.3" fill="#404040" font-style="italic" textLength="21.80" lengthAdjust="spacingAndGlyphs">HSPA1A</text>
<text x="168.80" y="329.05" font-size="6.3" fill="#404040" font-style="italic" textLength="20.70" lengthAdjust="spacingAndGlyphs">DNAJB1</text>
<text x="169.50" y="337.25" font-size="6.3" fill="#404040" font-style="italic" textLength="10.00" lengthAdjust="spacingAndGlyphs">JUN</text>
<text x="165.00" y="346.75" font-size="6.3" fill="#404040" font-style="italic" textLength="24.30" lengthAdjust="spacingAndGlyphs">TNFRSF4</text>
<text x="55.50" y="295.55" font-size="6.3" fill="#404040" font-style="italic" textLength="13.30" lengthAdjust="spacingAndGlyphs">LAG3</text>
<text x="73.80" y="292.75" font-size="6.3" fill="#404040" font-style="italic" textLength="16.70" lengthAdjust="spacingAndGlyphs">KLRB1</text>
<text x="76.50" y="285.55" font-size="6.3" fill="#404040" font-style="italic" textLength="19.30" lengthAdjust="spacingAndGlyphs">CHI3L2</text>
<text x="107.00" y="284.25" font-size="6.3" fill="#404040" font-style="italic" textLength="16.00" lengthAdjust="spacingAndGlyphs">SRGN</text>
<text x="99.50" y="297.25" font-size="6.3" fill="#404040" font-style="italic" textLength="24.80" lengthAdjust="spacingAndGlyphs">RNASET2</text>
<text x="80.00" y="303.55" font-size="6.3" fill="#404040" font-style="italic" textLength="21.30" lengthAdjust="spacingAndGlyphs">GIMAP7</text>
<text x="85.00" y="309.75" font-size="6.3" fill="#404040" font-style="italic" textLength="11.30" lengthAdjust="spacingAndGlyphs">IKZF3</text>
<text x="113.80" y="309.25" font-size="6.3" fill="#404040" font-style="italic" textLength="10.50" lengthAdjust="spacingAndGlyphs">MAF</text>
<text x="97.50" y="314.05" font-size="6.3" fill="#404040" font-style="italic" textLength="11.30" lengthAdjust="spacingAndGlyphs">CD6</text>
<text x="85.00" y="320.55" font-size="6.3" fill="#404040" font-style="italic" textLength="21.30" lengthAdjust="spacingAndGlyphs">RNF19A</text>
<text x="87.00" y="328.55" font-size="6.3" fill="#404040" font-style="italic" textLength="18.00" lengthAdjust="spacingAndGlyphs">PDCD1</text>
<rect x="51.75" y="220.00" width="155.25" height="133.25" fill="none" stroke="#000" stroke-width="1.0"/>
<circle cx="57.00" cy="408.30" r="3.10" fill="#2a177a"/>
<circle cx="67.76" cy="408.30" r="2.10" fill="#32207f"/>
<circle cx="78.52" cy="408.30" r="1.20" fill="#bebbcc"/>
<circle cx="89.28" cy="408.30" r="2.90" fill="#7264ab"/>
<circle cx="100.04" cy="408.30" r="3.10" fill="#2a177a"/>
<circle cx="110.80" cy="408.30" r="2.50" fill="#7264ab"/>
<circle cx="121.56" cy="408.30" r="1.20" fill="#a4a4ac"/>
<circle cx="132.32" cy="408.30" r="2.70" fill="#2a177a"/>
<circle cx="143.08" cy="408.30" r="2.30" fill="#2a177a"/>
<circle cx="153.84" cy="408.30" r="2.30" fill="#7264ab"/>
<circle cx="164.60" cy="408.30" r="3.00" fill="#5a4a9a"/>
<circle cx="175.36" cy="408.30" r="3.30" fill="#2a177a"/>
<circle cx="186.12" cy="408.30" r="3.60" fill="#2a177a"/>
<circle cx="196.88" cy="408.30" r="1.60" fill="#3a2885"/>
<circle cx="207.64" cy="408.30" r="3.00" fill="#2a177a"/>
<circle cx="218.40" cy="408.30" r="3.20" fill="#524295"/>
<circle cx="229.16" cy="408.30" r="2.20" fill="#2a177a"/>
<circle cx="239.92" cy="408.30" r="3.00" fill="#6a5ba5"/>
<circle cx="250.68" cy="408.30" r="1.40" fill="#32207f"/>
<circle cx="261.44" cy="408.30" r="1.20" fill="#c4c4c8"/>
<circle cx="272.20" cy="408.30" r="0.80" fill="#dadadc"/>
<circle cx="282.96" cy="408.30" r="3.60" fill="#2a177a"/>
<circle cx="293.72" cy="408.30" r="1.30" fill="#32207f"/>
<circle cx="304.48" cy="408.30" r="3.00" fill="#7264ab"/>
<circle cx="315.24" cy="408.30" r="1.30" fill="#8a8a98"/>
<circle cx="326.00" cy="408.30" r="1.30" fill="#a6a6ae"/>
<circle cx="336.76" cy="408.30" r="2.00" fill="#a6a6ae"/>
<circle cx="347.52" cy="408.30" r="1.30" fill="#a4a4ac"/>
<circle cx="358.28" cy="408.30" r="1.60" fill="#9898a6"/>
<circle cx="369.04" cy="408.30" r="3.50" fill="#8b80b7"/>
<circle cx="379.80" cy="408.30" r="3.00" fill="#2a177a"/>
<circle cx="390.56" cy="408.30" r="2.60" fill="#2a177a"/>
<circle cx="401.32" cy="408.30" r="3.00" fill="#2a177a"/>
<circle cx="412.08" cy="408.30" r="1.20" fill="#2a177a"/>
<circle cx="422.84" cy="408.30" r="2.60" fill="#c0bfc8"/>
<circle cx="433.60" cy="408.30" r="1.20" fill="#2a177a"/>
<circle cx="444.36" cy="408.30" r="2.30" fill="#2a177a"/>
<circle cx="57.00" cy="429.00" r="2.70" fill="#6a5ba5"/>
<circle cx="67.76" cy="429.00" r="1.70" fill="#62627a"/>
<circle cx="78.52" cy="429.00" r="1.20" fill="#cbcad1"/>
<circle cx="89.28" cy="429.00" r="2.40" fill="#bebbcc"/>
<circle cx="100.04" cy="429.00" r="2.60" fill="#7264ab"/>
<circle cx="110.80" cy="429.00" r="2.00" fill="#a49ec2"/>
<circle cx="121.56" cy="429.00" r="1.30" fill="#8a8a98"/>
<circle cx="132.32" cy="429.00" r="2.00" fill="#bebbcc"/>
<circle cx="143.08" cy="429.00" r="1.50" fill="#bebbcc"/>
<circle cx="153.84" cy="429.00" r="1.50" fill="#c8c8cc"/>
<circle cx="164.60" cy="429.00" r="3.20" fill="#2a177a"/>
<circle cx="175.36" cy="429.00" r="3.20" fill="#6252a0"/>
<circle cx="186.12" cy="429.00" r="3.50" fill="#c6c5d0"/>
<circle cx="196.88" cy="429.00" r="1.80" fill="#2a177a"/>
<circle cx="207.64" cy="429.00" r="2.40" fill="#948aba"/>
<circle cx="218.40" cy="429.00" r="2.50" fill="#c2c0ce"/>
<circle cx="229.16" cy="429.00" r="1.50" fill="#c8c8cc"/>
<circle cx="239.92" cy="429.00" r="2.60" fill="#c2c0ce"/>
<circle cx="250.68" cy="429.00" r="1.20" fill="#c8c8cc"/>
<circle cx="261.44" cy="429.00" r="1.20" fill="#cfcfd2"/>
<circle cx="272.20" cy="429.00" r="1.00" fill="#d6d6d8"/>
<circle cx="282.96" cy="429.00" r="3.50" fill="#6a5ba5"/>
<circle cx="293.72" cy="429.00" r="1.20" fill="#cfcfd2"/>
<circle cx="304.48" cy="429.00" r="2.40" fill="#c2c0ce"/>
<circle cx="315.24" cy="429.00" r="1.20" fill="#cfcfd2"/>
<circle cx="326.00" cy="429.00" r="1.30" fill="#bdbdc2"/>
<circle cx="336.76" cy="429.00" r="1.50" fill="#bdbdc2"/>
<circle cx="347.52" cy="429.00" r="1.20" fill="#c4c4c8"/>
<circle cx="358.28" cy="429.00" r="1.30" fill="#c4c4c8"/>
<circle cx="369.04" cy="429.00" r="3.50" fill="#a49ec2"/>
<circle cx="379.80" cy="429.00" r="2.00" fill="#c8c8cc"/>
<circle cx="390.56" cy="429.00" r="1.20" fill="#d4d4d6"/>
<circle cx="401.32" cy="429.00" r="2.00" fill="#c4c4c8"/>
<circle cx="412.08" cy="429.00" r="1.20" fill="#d4d4d6"/>
<circle cx="422.84" cy="429.00" r="3.20" fill="#2a177a"/>
<circle cx="433.60" cy="429.00" r="1.20" fill="#c4c4c8"/>
<circle cx="444.36" cy="429.00" r="1.20" fill="#c8c8cc"/>
<circle cx="57.00" cy="450.00" r="1.20" fill="#dcdce0"/>
<circle cx="67.76" cy="450.00" r="1.30" fill="#ada7c5"/>
<circle cx="78.52" cy="450.00" r="2.40" fill="#2a177a"/>
<circle cx="89.28" cy="450.00" r="3.20" fill="#2a177a"/>
<circle cx="100.04" cy="450.00" r="2.00" fill="#bebbcc"/>
<circle cx="110.80" cy="450.00" r="3.00" fill="#2a177a"/>
<circle cx="121.56" cy="450.00" r="2.20" fill="#2a177a"/>
<circle cx="132.32" cy="450.00" r="2.20" fill="#7264ab"/>
<circle cx="143.08" cy="450.00" r="2.00" fill="#6a5ba5"/>
<circle cx="153.84" cy="450.00" r="2.60" fill="#2a177a"/>
<circle cx="164.60" cy="450.00" r="3.00" fill="#c2c0ce"/>
<circle cx="175.36" cy="450.00" r="3.00" fill="#c2c0ce"/>
<circle cx="186.12" cy="450.00" r="3.50" fill="#524295"/>
<circle cx="196.88" cy="450.00" r="1.00" fill="#e2e2e4"/>
<circle cx="207.64" cy="450.00" r="2.30" fill="#a49ec2"/>
<circle cx="218.40" cy="450.00" r="3.20" fill="#2a177a"/>
<circle cx="229.16" cy="450.00" r="1.80" fill="#6252a0"/>
<circle cx="239.92" cy="450.00" r="3.20" fill="#2a177a"/>
<circle cx="250.68" cy="450.00" r="1.30" fill="#8c8ca0"/>
<circle cx="261.44" cy="450.00" r="1.20" fill="#2a177a"/>
<circle cx="272.20" cy="450.00" r="1.80" fill="#2a177a"/>
<circle cx="282.96" cy="450.00" r="3.50" fill="#c2c0ce"/>
<circle cx="293.72" cy="450.00" r="1.20" fill="#2a177a"/>
<circle cx="304.48" cy="450.00" r="3.00" fill="#2a177a"/>
<circle cx="315.24" cy="450.00" r="1.80" fill="#2a177a"/>
<circle cx="326.00" cy="450.00" r="2.20" fill="#2a177a"/>
<circle cx="336.76" cy="450.00" r="2.80" fill="#2a177a"/>
<circle cx="347.52" cy="450.00" r="2.50" fill="#2a177a"/>
<circle cx="358.28" cy="450.00" r="2.20" fill="#2a177a"/>
<circle cx="369.04" cy="450.00" r="3.70" fill="#2a177a"/>
<circle cx="379.80" cy="450.00" r="3.00" fill="#6252a0"/>
<circle cx="390.56" cy="450.00" r="2.20" fill="#524295"/>
<circle cx="401.32" cy="450.00" r="2.20" fill="#7a6cb0"/>
<circle cx="412.08" cy="450.00" r="1.20" fill="#c4c4c8"/>
<circle cx="422.84" cy="450.00" r="2.40" fill="#a49ec2"/>
<circle cx="433.60" cy="450.00" r="1.00" fill="#dcdce0"/>
<circle cx="444.36" cy="450.00" r="1.40" fill="#9090a8"/>
<line x1="50.75" y1="395.80" x2="50.75" y2="462.50" stroke="#000" stroke-width="1.0"/>
<line x1="50.25" y1="462.50" x2="449.20" y2="462.50" stroke="#000" stroke-width="1.0"/>
<line x1="47.00" y1="408.30" x2="50.75" y2="408.30" stroke="#000" stroke-width="0.9"/>
<text x="43.80" y="410.80" font-size="6.5" fill="#222" text-anchor="end" textLength="23.80" lengthAdjust="spacingAndGlyphs" stroke="#222" stroke-width="0.1">actTregs</text>
<line x1="47.00" y1="429.00" x2="50.75" y2="429.00" stroke="#000" stroke-width="0.9"/>
<text x="43.80" y="431.50" font-size="6.5" fill="#222" text-anchor="end" textLength="25.70" lengthAdjust="spacingAndGlyphs" stroke="#222" stroke-width="0.1">restTregs</text>
<line x1="47.00" y1="450.00" x2="50.75" y2="450.00" stroke="#000" stroke-width="0.9"/>
<text x="43.80" y="453.60" font-size="6.5" fill="#222" text-anchor="end" textLength="15.00" lengthAdjust="spacingAndGlyphs" stroke="#222" stroke-width="0.1">Tregs</text>
<text x="6.90" y="453.60" font-size="6.5" fill="#222" textLength="17.10" lengthAdjust="spacingAndGlyphs" stroke="#222" stroke-width="0.1">LAG3</text>
<text x="24.40" y="449.50" font-size="4.2" fill="#222" stroke="#222" stroke-width="0.1">+</text>
<line x1="57.00" y1="462.50" x2="57.00" y2="465.00" stroke="#000" stroke-width="0.9"/>
<text x="0" y="0" font-size="6.3" fill="#444" stroke="#444" stroke-width="0.08" font-style="italic" text-anchor="end" transform="translate(59.10,469.0) rotate(-90)">FOXP3</text>
<line x1="67.76" y1="462.50" x2="67.76" y2="465.00" stroke="#000" stroke-width="0.9"/>
<text x="0" y="0" font-size="6.3" fill="#444" stroke="#444" stroke-width="0.08" font-style="italic" text-anchor="end" transform="translate(69.86,469.0) rotate(-90)">IL2RA</text>
<line x1="78.52" y1="462.50" x2="78.52" y2="465.00" stroke="#000" stroke-width="0.9"/>
<text x="0" y="0" font-size="6.3" fill="#444" stroke="#444" stroke-width="0.08" font-style="italic" text-anchor="end" transform="translate(80.62,469.0) rotate(-90)">LAG3</text>
<line x1="89.28" y1="462.50" x2="89.28" y2="465.00" stroke="#000" stroke-width="0.9"/>
<text x="0" y="0" font-size="6.3" fill="#444" stroke="#444" stroke-width="0.08" font-style="italic" text-anchor="end" transform="translate(91.38,469.0) rotate(-90)">CTLA4</text>
<line x1="100.04" y1="462.50" x2="100.04" y2="465.00" stroke="#000" stroke-width="0.9"/>
<text x="0" y="0" font-size="6.3" fill="#444" stroke="#444" stroke-width="0.08" font-style="italic" text-anchor="end" transform="translate(102.14,469.0) rotate(-90)">TIGIT</text>
<line x1="110.80" y1="462.50" x2="110.80" y2="465.00" stroke="#000" stroke-width="0.9"/>
<text x="0" y="0" font-size="6.3" fill="#444" stroke="#444" stroke-width="0.08" font-style="italic" text-anchor="end" transform="translate(112.90,469.0) rotate(-90)">ICOS</text>
<line x1="121.56" y1="462.50" x2="121.56" y2="465.00" stroke="#000" stroke-width="0.9"/>
<text x="0" y="0" font-size="6.3" fill="#444" stroke="#444" stroke-width="0.08" font-style="italic" text-anchor="end" transform="translate(123.66,469.0) rotate(-90)">PDCD1</text>
<line x1="132.32" y1="462.50" x2="132.32" y2="465.00" stroke="#000" stroke-width="0.9"/>
<text x="0" y="0" font-size="6.3" fill="#444" stroke="#444" stroke-width="0.08" font-style="italic" text-anchor="end" transform="translate(134.42,469.0) rotate(-90)">TNFRSF4</text>
<line x1="143.08" y1="462.50" x2="143.08" y2="465.00" stroke="#000" stroke-width="0.9"/>
<text x="0" y="0" font-size="6.3" fill="#444" stroke="#444" stroke-width="0.08" font-style="italic" text-anchor="end" transform="translate(145.18,469.0) rotate(-90)">TNFRSF18</text>
<line x1="153.84" y1="462.50" x2="153.84" y2="465.00" stroke="#000" stroke-width="0.9"/>
<text x="0" y="0" font-size="6.3" fill="#444" stroke="#444" stroke-width="0.08" font-style="italic" text-anchor="end" transform="translate(155.94,469.0) rotate(-90)">CD28</text>
<line x1="164.60" y1="462.50" x2="164.60" y2="465.00" stroke="#000" stroke-width="0.9"/>
<text x="0" y="0" font-size="6.3" fill="#444" stroke="#444" stroke-width="0.08" font-style="italic" text-anchor="end" transform="translate(166.70,469.0) rotate(-90)">CD27</text>
<line x1="175.36" y1="462.50" x2="175.36" y2="465.00" stroke="#000" stroke-width="0.9"/>
<text x="0" y="0" font-size="6.3" fill="#444" stroke="#444" stroke-width="0.08" font-style="italic" text-anchor="end" transform="translate(177.46,469.0) rotate(-90)">JUN</text>
<line x1="186.12" y1="462.50" x2="186.12" y2="465.00" stroke="#000" stroke-width="0.9"/>
<text x="0" y="0" font-size="6.3" fill="#444" stroke="#444" stroke-width="0.08" font-style="italic" text-anchor="end" transform="translate(188.22,469.0) rotate(-90)">JUNB</text>
<line x1="196.88" y1="462.50" x2="196.88" y2="465.00" stroke="#000" stroke-width="0.9"/>
<text x="0" y="0" font-size="6.3" fill="#444" stroke="#444" stroke-width="0.08" font-style="italic" text-anchor="end" transform="translate(198.98,469.0) rotate(-90)">IKZF2</text>
<line x1="207.64" y1="462.50" x2="207.64" y2="465.00" stroke="#000" stroke-width="0.9"/>
<text x="0" y="0" font-size="6.3" fill="#444" stroke="#444" stroke-width="0.08" font-style="italic" text-anchor="end" transform="translate(209.74,469.0) rotate(-90)">BATF</text>
<line x1="218.40" y1="462.50" x2="218.40" y2="465.00" stroke="#000" stroke-width="0.9"/>
<text x="0" y="0" font-size="6.3" fill="#444" stroke="#444" stroke-width="0.08" font-style="italic" text-anchor="end" transform="translate(220.50,469.0) rotate(-90)">NFKBIA</text>
<line x1="229.16" y1="462.50" x2="229.16" y2="465.00" stroke="#000" stroke-width="0.9"/>
<text x="0" y="0" font-size="6.3" fill="#444" stroke="#444" stroke-width="0.08" font-style="italic" text-anchor="end" transform="translate(231.26,469.0) rotate(-90)">NFKBIZ</text>
<line x1="239.92" y1="462.50" x2="239.92" y2="465.00" stroke="#000" stroke-width="0.9"/>
<text x="0" y="0" font-size="6.3" fill="#444" stroke="#444" stroke-width="0.08" font-style="italic" text-anchor="end" transform="translate(242.02,469.0) rotate(-90)">TNFAIP3</text>
<line x1="250.68" y1="462.50" x2="250.68" y2="465.00" stroke="#000" stroke-width="0.9"/>
<text x="0" y="0" font-size="6.3" fill="#444" stroke="#444" stroke-width="0.08" font-style="italic" text-anchor="end" transform="translate(252.78,469.0) rotate(-90)">TGFB1</text>
<line x1="261.44" y1="462.50" x2="261.44" y2="465.00" stroke="#000" stroke-width="0.9"/>
<text x="0" y="0" font-size="6.3" fill="#444" stroke="#444" stroke-width="0.08" font-style="italic" text-anchor="end" transform="translate(263.54,469.0) rotate(-90)">IL10</text>
<line x1="272.20" y1="462.50" x2="272.20" y2="465.00" stroke="#000" stroke-width="0.9"/>
<text x="0" y="0" font-size="6.3" fill="#444" stroke="#444" stroke-width="0.08" font-style="italic" text-anchor="end" transform="translate(274.30,469.0) rotate(-90)">IL21</text>
<line x1="282.96" y1="462.50" x2="282.96" y2="465.00" stroke="#000" stroke-width="0.9"/>
<text x="0" y="0" font-size="6.3" fill="#444" stroke="#444" stroke-width="0.08" font-style="italic" text-anchor="end" transform="translate(285.06,469.0) rotate(-90)">IL32</text>
<line x1="293.72" y1="462.50" x2="293.72" y2="465.00" stroke="#000" stroke-width="0.9"/>
<text x="0" y="0" font-size="6.3" fill="#444" stroke="#444" stroke-width="0.08" font-style="italic" text-anchor="end" transform="translate(295.82,469.0) rotate(-90)">CXCR3</text>
<line x1="304.48" y1="462.50" x2="304.48" y2="465.00" stroke="#000" stroke-width="0.9"/>
<text x="0" y="0" font-size="6.3" fill="#444" stroke="#444" stroke-width="0.08" font-style="italic" text-anchor="end" transform="translate(306.58,469.0) rotate(-90)">CXCR4</text>
<line x1="315.24" y1="462.50" x2="315.24" y2="465.00" stroke="#000" stroke-width="0.9"/>
<text x="0" y="0" font-size="6.3" fill="#444" stroke="#444" stroke-width="0.08" font-style="italic" text-anchor="end" transform="translate(317.34,469.0) rotate(-90)">CXCR5</text>
<line x1="326.00" y1="462.50" x2="326.00" y2="465.00" stroke="#000" stroke-width="0.9"/>
<text x="0" y="0" font-size="6.3" fill="#444" stroke="#444" stroke-width="0.08" font-style="italic" text-anchor="end" transform="translate(328.10,469.0) rotate(-90)">TOX</text>
<line x1="336.76" y1="462.50" x2="336.76" y2="465.00" stroke="#000" stroke-width="0.9"/>
<text x="0" y="0" font-size="6.3" fill="#444" stroke="#444" stroke-width="0.08" font-style="italic" text-anchor="end" transform="translate(338.86,469.0) rotate(-90)">TOX2</text>
<line x1="347.52" y1="462.50" x2="347.52" y2="465.00" stroke="#000" stroke-width="0.9"/>
<text x="0" y="0" font-size="6.3" fill="#444" stroke="#444" stroke-width="0.08" font-style="italic" text-anchor="end" transform="translate(349.62,469.0) rotate(-90)">KLRB1</text>
<line x1="358.28" y1="462.50" x2="358.28" y2="465.00" stroke="#000" stroke-width="0.9"/>
<text x="0" y="0" font-size="6.3" fill="#444" stroke="#444" stroke-width="0.08" font-style="italic" text-anchor="end" transform="translate(360.38,469.0) rotate(-90)">PRDM1</text>
<line x1="369.04" y1="462.50" x2="369.04" y2="465.00" stroke="#000" stroke-width="0.9"/>
<text x="0" y="0" font-size="6.3" fill="#444" stroke="#444" stroke-width="0.08" font-style="italic" text-anchor="end" transform="translate(371.14,469.0) rotate(-90)">SRGN</text>
<line x1="379.80" y1="462.50" x2="379.80" y2="465.00" stroke="#000" stroke-width="0.9"/>
<text x="0" y="0" font-size="6.3" fill="#444" stroke="#444" stroke-width="0.08" font-style="italic" text-anchor="end" transform="translate(381.90,469.0) rotate(-90)">DUSP2</text>
<line x1="390.56" y1="462.50" x2="390.56" y2="465.00" stroke="#000" stroke-width="0.9"/>
<text x="0" y="0" font-size="6.3" fill="#444" stroke="#444" stroke-width="0.08" font-style="italic" text-anchor="end" transform="translate(392.66,469.0) rotate(-90)">DUSP4</text>
<line x1="401.32" y1="462.50" x2="401.32" y2="465.00" stroke="#000" stroke-width="0.9"/>
<text x="0" y="0" font-size="6.3" fill="#444" stroke="#444" stroke-width="0.08" font-style="italic" text-anchor="end" transform="translate(403.42,469.0) rotate(-90)">IRF1</text>
<line x1="412.08" y1="462.50" x2="412.08" y2="465.00" stroke="#000" stroke-width="0.9"/>
<text x="0" y="0" font-size="6.3" fill="#444" stroke="#444" stroke-width="0.08" font-style="italic" text-anchor="end" transform="translate(414.18,469.0) rotate(-90)">PRF1</text>
<line x1="422.84" y1="462.50" x2="422.84" y2="465.00" stroke="#000" stroke-width="0.9"/>
<text x="0" y="0" font-size="6.3" fill="#444" stroke="#444" stroke-width="0.08" font-style="italic" text-anchor="end" transform="translate(424.94,469.0) rotate(-90)">TXNIP</text>
<line x1="433.60" y1="462.50" x2="433.60" y2="465.00" stroke="#000" stroke-width="0.9"/>
<text x="0" y="0" font-size="6.3" fill="#444" stroke="#444" stroke-width="0.08" font-style="italic" text-anchor="end" transform="translate(435.70,469.0) rotate(-90)">ENTPD1</text>
<line x1="444.36" y1="462.50" x2="444.36" y2="465.00" stroke="#000" stroke-width="0.9"/>
<text x="0" y="0" font-size="6.3" fill="#444" stroke="#444" stroke-width="0.08" font-style="italic" text-anchor="end" transform="translate(446.46,469.0) rotate(-90)">PIM3</text>
<text x="457.80" y="389.00" font-size="6.4" fill="#222" textLength="55.20" lengthAdjust="spacingAndGlyphs" stroke="#222" stroke-width="0.1">Average Expression</text>
<defs><linearGradient id="gc" x1="0" y1="0" x2="0" y2="1"><stop offset="0" stop-color="#1f1268"/><stop offset="0.06" stop-color="#2c1a7c"/><stop offset="0.5" stop-color="#6c5eaa"/><stop offset="1" stop-color="#dcdce2"/></linearGradient><linearGradient id="gd" x1="0" y1="0" x2="0" y2="1"><stop offset="0" stop-color="#2f5189"/><stop offset="0.3" stop-color="#6a84ae"/><stop offset="0.6" stop-color="#a8b6d0"/><stop offset="1" stop-color="#f0f2f7"/></linearGradient></defs>
<rect x="457.80" y="393.20" width="7.70" height="39.60" fill="url(#gc)"/>
<line x1="457.80" y1="396.30" x2="459.30" y2="396.30" stroke="#fff" stroke-width="0.5"/>
<line x1="464.00" y1="396.30" x2="465.50" y2="396.30" stroke="#fff" stroke-width="0.5"/>
<text x="469.00" y="398.60" font-size="6.4" fill="#222" stroke="#222" stroke-width="0.1">1.0</text>
<line x1="457.80" y1="405.00" x2="459.30" y2="405.00" stroke="#fff" stroke-width="0.5"/>
<line x1="464.00" y1="405.00" x2="465.50" y2="405.00" stroke="#fff" stroke-width="0.5"/>
<text x="469.00" y="407.30" font-size="6.4" fill="#222" stroke="#222" stroke-width="0.1">0.5</text>
<line x1="457.80" y1="413.60" x2="459.30" y2="413.60" stroke="#fff" stroke-width="0.5"/>
<line x1="464.00" y1="413.60" x2="465.50" y2="413.60" stroke="#fff" stroke-width="0.5"/>
<text x="469.00" y="415.90" font-size="6.4" fill="#222" stroke="#222" stroke-width="0.1">0.0</text>
<line x1="457.80" y1="422.50" x2="459.30" y2="422.50" stroke="#fff" stroke-width="0.5"/>
<line x1="464.00" y1="422.50" x2="465.50" y2="422.50" stroke="#fff" stroke-width="0.5"/>
<text x="469.00" y="424.80" font-size="6.4" fill="#222" stroke="#222" stroke-width="0.1">−0.5</text>
<line x1="457.80" y1="430.80" x2="459.30" y2="430.80" stroke="#fff" stroke-width="0.5"/>
<line x1="464.00" y1="430.80" x2="465.50" y2="430.80" stroke="#fff" stroke-width="0.5"/>
<text x="469.00" y="433.10" font-size="6.4" fill="#222" stroke="#222" stroke-width="0.1">−1.0</text>
<text x="457.80" y="447.40" font-size="6.4" fill="#222" textLength="52.70" lengthAdjust="spacingAndGlyphs" stroke="#222" stroke-width="0.1">Percent Expressed</text>
<circle cx="460.30" cy="455.10" r="1.30" fill="#000"/>
<text x="468.60" y="457.40" font-size="6.4" fill="#222" stroke="#222" stroke-width="0.1">25</text>
<circle cx="460.30" cy="463.40" r="2.05" fill="#000"/>
<text x="468.60" y="465.70" font-size="6.4" fill="#222" stroke="#222" stroke-width="0.1">50</text>
<circle cx="460.30" cy="471.10" r="2.80" fill="#000"/>
<text x="468.60" y="473.40" font-size="6.4" fill="#222" stroke="#222" stroke-width="0.1">75</text>
<rect x="375.50" y="62.90" width="24.55" height="9.98" fill="#375787"/>
<rect x="399.75" y="62.90" width="24.55" height="9.98" fill="#f6f8fb"/>
<rect x="424.00" y="62.90" width="24.55" height="9.98" fill="#94a4bf"/>
<line x1="372.70" y1="67.74" x2="375.50" y2="67.74" stroke="#000" stroke-width="0.9"/>
<text x="369.40" y="70.24" font-size="6.38" fill="#1a1a1a" text-anchor="end" stroke="#1a1a1a" stroke-width="0.12">TNFα signaling via NFKB</text>
<rect x="375.50" y="72.58" width="24.55" height="9.98" fill="#3c5a87"/>
<rect x="399.75" y="72.58" width="24.55" height="9.98" fill="#b3bdd1"/>
<rect x="424.00" y="72.58" width="24.55" height="9.98" fill="#93a1bc"/>
<line x1="372.70" y1="77.42" x2="375.50" y2="77.42" stroke="#000" stroke-width="0.9"/>
<text x="369.40" y="79.92" font-size="6.38" fill="#1a1a1a" text-anchor="end" stroke="#1a1a1a" stroke-width="0.12">IL2 STAT5 signaling</text>
<rect x="375.50" y="82.26" width="24.55" height="9.98" fill="#516c95"/>
<rect x="399.75" y="82.26" width="24.55" height="9.98" fill="#dee2eb"/>
<rect x="424.00" y="82.26" width="24.55" height="9.98" fill="#acb7cb"/>
<line x1="372.70" y1="87.10" x2="375.50" y2="87.10" stroke="#000" stroke-width="0.9"/>
<text x="369.40" y="89.60" font-size="6.38" fill="#1a1a1a" text-anchor="end" stroke="#1a1a1a" stroke-width="0.12">IFNγ response</text>
<rect x="375.50" y="91.94" width="24.55" height="9.98" fill="#61799e"/>
<rect x="399.75" y="91.94" width="24.55" height="9.98" fill="#f2f3f7"/>
<rect x="424.00" y="91.94" width="24.55" height="9.98" fill="#cad1dd"/>
<line x1="372.70" y1="96.78" x2="375.50" y2="96.78" stroke="#000" stroke-width="0.9"/>
<text x="369.40" y="99.28" font-size="6.38" fill="#1a1a1a" text-anchor="end" stroke="#1a1a1a" stroke-width="0.12">Apoptosis</text>
<rect x="375.50" y="101.62" width="24.55" height="9.98" fill="#5f789f"/>
<rect x="399.75" y="101.62" width="24.55" height="9.98" fill="#f8f9fc"/>
<rect x="424.00" y="101.62" width="24.55" height="9.98" fill="#bbc4d4"/>
<line x1="372.70" y1="106.46" x2="375.50" y2="106.46" stroke="#000" stroke-width="0.9"/>
<text x="369.40" y="108.96" font-size="6.38" fill="#1a1a1a" text-anchor="end" stroke="#1a1a1a" stroke-width="0.12">MTORC1 signaling</text>
<rect x="375.50" y="111.30" width="24.55" height="9.98" fill="#98a5be"/>
<rect x="399.75" y="111.30" width="24.55" height="9.98" fill="#dee1e9"/>
<rect x="424.00" y="111.30" width="24.55" height="9.98" fill="#e6e8ef"/>
<line x1="372.70" y1="116.14" x2="375.50" y2="116.14" stroke="#000" stroke-width="0.9"/>
<text x="369.40" y="118.64" font-size="6.38" fill="#1a1a1a" text-anchor="end" stroke="#1a1a1a" stroke-width="0.12">Antigen processing and presentation</text>
<text x="450.20" y="118.29" font-size="6.1" fill="#111" stroke="#111" stroke-width="0.1">K</text>
<rect x="375.50" y="120.98" width="24.55" height="9.98" fill="#92a0bc"/>
<rect x="399.75" y="120.98" width="24.55" height="9.98" fill="#d6dae4"/>
<rect x="424.00" y="120.98" width="24.55" height="9.98" fill="#8f9eb8"/>
<line x1="372.70" y1="125.82" x2="375.50" y2="125.82" stroke="#000" stroke-width="0.9"/>
<text x="369.40" y="128.32" font-size="6.38" fill="#1a1a1a" text-anchor="end" stroke="#1a1a1a" stroke-width="0.12">Allograft rejection</text>
<text x="450.20" y="127.97" font-size="6.1" fill="#111" stroke="#111" stroke-width="0.1">K</text>
<rect x="375.50" y="130.66" width="24.55" height="9.98" fill="#f3f4f8"/>
<rect x="399.75" y="130.66" width="24.55" height="9.98" fill="#f6f7fa"/>
<rect x="424.00" y="130.66" width="24.55" height="9.98" fill="#8f9eb8"/>
<line x1="372.70" y1="135.50" x2="375.50" y2="135.50" stroke="#000" stroke-width="0.9"/>
<text x="369.40" y="138.00" font-size="6.38" fill="#1a1a1a" text-anchor="end" stroke="#1a1a1a" stroke-width="0.12">T cell receptor signaling pathway</text>
<text x="450.20" y="137.65" font-size="6.1" fill="#111" stroke="#111" stroke-width="0.1">K</text>
<rect x="375.50" y="140.34" width="24.55" height="9.98" fill="#9eabc2"/>
<rect x="399.75" y="140.34" width="24.55" height="9.98" fill="#f4f5f9"/>
<rect x="424.00" y="140.34" width="24.55" height="9.98" fill="#cad1de"/>
<line x1="372.70" y1="145.18" x2="375.50" y2="145.18" stroke="#000" stroke-width="0.9"/>
<text x="369.40" y="147.68" font-size="6.38" fill="#1a1a1a" text-anchor="end" stroke="#1a1a1a" stroke-width="0.12">Hypoxia</text>
<rect x="375.50" y="150.02" width="24.55" height="9.98" fill="#9ba9c0"/>
<rect x="399.75" y="150.02" width="24.55" height="9.98" fill="#e7eaf1"/>
<rect x="424.00" y="150.02" width="24.55" height="9.98" fill="#e7eaf1"/>
<line x1="372.70" y1="154.86" x2="375.50" y2="154.86" stroke="#000" stroke-width="0.9"/>
<text x="369.40" y="157.36" font-size="6.38" fill="#1a1a1a" text-anchor="end" stroke="#1a1a1a" stroke-width="0.12">p53 pathway</text>
<rect x="375.50" y="159.70" width="24.55" height="9.98" fill="#a6b1c7"/>
<rect x="399.75" y="159.70" width="24.55" height="9.98" fill="#f4f5f9"/>
<rect x="424.00" y="159.70" width="24.55" height="9.98" fill="#c5cbd7"/>
<line x1="372.70" y1="164.54" x2="375.50" y2="164.54" stroke="#000" stroke-width="0.9"/>
<text x="369.40" y="167.04" font-size="6.38" fill="#1a1a1a" text-anchor="end" stroke="#1a1a1a" stroke-width="0.12">Inflammatory response</text>
<rect x="375.50" y="169.38" width="24.55" height="9.98" fill="#c1c9d7"/>
<rect x="399.75" y="169.38" width="24.55" height="9.98" fill="#e4e6ed"/>
<rect x="424.00" y="169.38" width="24.55" height="9.98" fill="#d9dde7"/>
<line x1="372.70" y1="174.22" x2="375.50" y2="174.22" stroke="#000" stroke-width="0.9"/>
<text x="369.40" y="176.72" font-size="6.38" fill="#1a1a1a" text-anchor="end" stroke="#1a1a1a" stroke-width="0.12">IL6 JAK STAT3 signaling</text>
<rect x="375.50" y="179.06" width="24.55" height="9.98" fill="#c0c8d6"/>
<rect x="399.75" y="179.06" width="24.55" height="9.98" fill="#e4e6ed"/>
<rect x="424.00" y="179.06" width="24.55" height="9.98" fill="#d9dde7"/>
<line x1="372.70" y1="183.90" x2="375.50" y2="183.90" stroke="#000" stroke-width="0.9"/>
<text x="369.40" y="186.40" font-size="6.38" fill="#1a1a1a" text-anchor="end" stroke="#1a1a1a" stroke-width="0.12">Cytokine-cytokine receptor interaction</text>
<text x="450.20" y="186.05" font-size="6.1" fill="#111" stroke="#111" stroke-width="0.1">K</text>
<rect x="375.50" y="188.74" width="24.55" height="9.98" fill="#c2cbd9"/>
<rect x="399.75" y="188.74" width="24.55" height="9.98" fill="#f1f2f7"/>
<rect x="424.00" y="188.74" width="24.55" height="9.98" fill="#d5dae3"/>
<line x1="372.70" y1="193.58" x2="375.50" y2="193.58" stroke="#000" stroke-width="0.9"/>
<text x="369.40" y="196.08" font-size="6.38" fill="#1a1a1a" text-anchor="end" stroke="#1a1a1a" stroke-width="0.12">JAK STAT signaling pathway</text>
<text x="450.20" y="195.73" font-size="6.1" fill="#111" stroke="#111" stroke-width="0.1">K</text>
<rect x="375.50" y="198.42" width="24.55" height="9.98" fill="#c5cdda"/>
<rect x="399.75" y="198.42" width="24.55" height="9.98" fill="#eff0f4"/>
<rect x="424.00" y="198.42" width="24.55" height="9.98" fill="#f5f6fa"/>
<line x1="372.70" y1="203.26" x2="375.50" y2="203.26" stroke="#000" stroke-width="0.9"/>
<text x="369.40" y="205.76" font-size="6.38" fill="#1a1a1a" text-anchor="end" stroke="#1a1a1a" stroke-width="0.12">IFNα response</text>
<rect x="375.50" y="208.10" width="24.55" height="9.98" fill="#c2cbd9"/>
<rect x="399.75" y="208.10" width="24.55" height="9.98" fill="#d9dee7"/>
<rect x="424.00" y="208.10" width="24.55" height="9.98" fill="#d2d7e0"/>
<line x1="372.70" y1="212.94" x2="375.50" y2="212.94" stroke="#000" stroke-width="0.9"/>
<text x="369.40" y="215.44" font-size="6.38" fill="#1a1a1a" text-anchor="end" stroke="#1a1a1a" stroke-width="0.12">Complement</text>
<rect x="375.50" y="217.78" width="24.55" height="9.98" fill="#c6cdda"/>
<rect x="399.75" y="217.78" width="24.55" height="9.98" fill="#f6f8fb"/>
<rect x="424.00" y="217.78" width="24.55" height="9.98" fill="#e4e7ef"/>
<line x1="372.70" y1="222.62" x2="375.50" y2="222.62" stroke="#000" stroke-width="0.9"/>
<text x="369.40" y="225.12" font-size="6.38" fill="#1a1a1a" text-anchor="end" stroke="#1a1a1a" stroke-width="0.12">p53 signaling pathway</text>
<text x="450.20" y="224.77" font-size="6.1" fill="#111" stroke="#111" stroke-width="0.1">K</text>
<rect x="375.50" y="227.46" width="24.55" height="9.98" fill="#e9ebf1"/>
<rect x="399.75" y="227.46" width="24.55" height="9.98" fill="#f6f8fb"/>
<rect x="424.00" y="227.46" width="24.55" height="9.98" fill="#cad3e0"/>
<line x1="372.70" y1="232.30" x2="375.50" y2="232.30" stroke="#000" stroke-width="0.9"/>
<text x="369.40" y="234.80" font-size="6.38" fill="#1a1a1a" text-anchor="end" stroke="#1a1a1a" stroke-width="0.12">Regulation of actin cytoskeleton</text>
<text x="450.20" y="234.45" font-size="6.1" fill="#111" stroke="#111" stroke-width="0.1">K</text>
<rect x="375.50" y="237.14" width="24.55" height="9.98" fill="#edeef4"/>
<rect x="399.75" y="237.14" width="24.55" height="9.98" fill="#f6f8fb"/>
<rect x="424.00" y="237.14" width="24.55" height="9.98" fill="#ced5e0"/>
<line x1="372.70" y1="241.98" x2="375.50" y2="241.98" stroke="#000" stroke-width="0.9"/>
<text x="369.40" y="244.48" font-size="6.38" fill="#1a1a1a" text-anchor="end" stroke="#1a1a1a" stroke-width="0.12">Primary immunodeficiency</text>
<text x="450.20" y="244.13" font-size="6.1" fill="#111" stroke="#111" stroke-width="0.1">K</text>
<rect x="375.50" y="246.82" width="24.55" height="9.98" fill="#cad1dd"/>
<rect x="399.75" y="246.82" width="24.55" height="9.98" fill="#f6f8fb"/>
<rect x="424.00" y="246.82" width="24.55" height="9.98" fill="#e7eaf1"/>
<line x1="372.70" y1="251.66" x2="375.50" y2="251.66" stroke="#000" stroke-width="0.9"/>
<text x="369.40" y="254.16" font-size="6.38" fill="#1a1a1a" text-anchor="end" stroke="#1a1a1a" stroke-width="0.12">UV response up</text>
<rect x="375.50" y="256.50" width="24.55" height="9.98" fill="#f8f9fc"/>
<rect x="399.75" y="256.50" width="24.55" height="9.98" fill="#f6f8fb"/>
<rect x="424.00" y="256.50" width="24.55" height="9.98" fill="#cfd3de"/>
<line x1="372.70" y1="261.34" x2="375.50" y2="261.34" stroke="#000" stroke-width="0.9"/>
<text x="369.40" y="263.84" font-size="6.38" fill="#1a1a1a" text-anchor="end" stroke="#1a1a1a" stroke-width="0.12">Protein export</text>
<text x="450.20" y="263.49" font-size="6.1" fill="#111" stroke="#111" stroke-width="0.1">K</text>
<rect x="375.50" y="266.18" width="24.55" height="9.98" fill="#cad1dd"/>
<rect x="399.75" y="266.18" width="24.55" height="9.98" fill="#f6f8fb"/>
<rect x="424.00" y="266.18" width="24.55" height="9.98" fill="#e4e7ee"/>
<line x1="372.70" y1="271.02" x2="375.50" y2="271.02" stroke="#000" stroke-width="0.9"/>
<text x="369.40" y="273.52" font-size="6.38" fill="#1a1a1a" text-anchor="end" stroke="#1a1a1a" stroke-width="0.12">PI3K AKT MTOR signaling</text>
<rect x="375.50" y="275.86" width="24.55" height="9.98" fill="#d2d7e1"/>
<rect x="399.75" y="275.86" width="24.55" height="9.98" fill="#f6f8fb"/>
<rect x="424.00" y="275.86" width="24.55" height="9.98" fill="#f3f4f8"/>
<line x1="372.70" y1="280.70" x2="375.50" y2="280.70" stroke="#000" stroke-width="0.9"/>
<text x="369.40" y="283.20" font-size="6.38" fill="#1a1a1a" text-anchor="end" stroke="#1a1a1a" stroke-width="0.12">Apoptosis</text>
<text x="450.20" y="282.85" font-size="6.1" fill="#111" stroke="#111" stroke-width="0.1">K</text>
<rect x="375.50" y="285.54" width="24.55" height="9.98" fill="#d5dae4"/>
<rect x="399.75" y="285.54" width="24.55" height="9.98" fill="#f8f9fc"/>
<rect x="424.00" y="285.54" width="24.55" height="9.98" fill="#eef0f3"/>
<line x1="372.70" y1="290.38" x2="375.50" y2="290.38" stroke="#000" stroke-width="0.9"/>
<text x="369.40" y="292.88" font-size="6.38" fill="#1a1a1a" text-anchor="end" stroke="#1a1a1a" stroke-width="0.12">MYC targets</text>
<rect x="375.50" y="295.22" width="24.55" height="9.98" fill="#d5dae4"/>
<rect x="399.75" y="295.22" width="24.55" height="9.98" fill="#e0e2e9"/>
<rect x="424.00" y="295.22" width="24.55" height="9.98" fill="#f7f9fc"/>
<line x1="372.70" y1="300.06" x2="375.50" y2="300.06" stroke="#000" stroke-width="0.9"/>
<text x="369.40" y="302.56" font-size="6.38" fill="#1a1a1a" text-anchor="end" stroke="#1a1a1a" stroke-width="0.12">Reactive oxygen species pathway</text>
<rect x="375.50" y="304.90" width="24.55" height="9.98" fill="#d5dae4"/>
<rect x="399.75" y="304.90" width="24.55" height="9.98" fill="#f7f8fb"/>
<rect x="424.00" y="304.90" width="24.55" height="9.98" fill="#d7dbe5"/>
<line x1="372.70" y1="309.74" x2="375.50" y2="309.74" stroke="#000" stroke-width="0.9"/>
<text x="369.40" y="312.24" font-size="6.38" fill="#1a1a1a" text-anchor="end" stroke="#1a1a1a" stroke-width="0.12">MAPK signaling pathway</text>
<text x="450.20" y="311.89" font-size="6.1" fill="#111" stroke="#111" stroke-width="0.1">K</text>
<rect x="375.50" y="314.58" width="24.55" height="9.98" fill="#d5dae4"/>
<rect x="399.75" y="314.58" width="24.55" height="9.98" fill="#f0f1f5"/>
<rect x="424.00" y="314.58" width="24.55" height="9.98" fill="#dde0e8"/>
<line x1="372.70" y1="319.42" x2="375.50" y2="319.42" stroke="#000" stroke-width="0.9"/>
<text x="369.40" y="321.92" font-size="6.38" fill="#1a1a1a" text-anchor="end" stroke="#1a1a1a" stroke-width="0.12">KRAS signaling up</text>
<rect x="375.50" y="324.26" width="24.55" height="9.98" fill="#d5dae4"/>
<rect x="399.75" y="324.26" width="24.55" height="9.98" fill="#f7f8fb"/>
<rect x="424.00" y="324.26" width="24.55" height="9.98" fill="#edeef4"/>
<line x1="372.70" y1="329.10" x2="375.50" y2="329.10" stroke="#000" stroke-width="0.9"/>
<text x="369.40" y="331.60" font-size="6.38" fill="#1a1a1a" text-anchor="end" stroke="#1a1a1a" stroke-width="0.12">Glycolysis</text>
<rect x="375.50" y="333.94" width="24.55" height="9.98" fill="#d5dae4"/>
<rect x="399.75" y="333.94" width="24.55" height="9.98" fill="#f7f8fb"/>
<rect x="424.00" y="333.94" width="24.55" height="9.98" fill="#edeef4"/>
<line x1="372.70" y1="338.78" x2="375.50" y2="338.78" stroke="#000" stroke-width="0.9"/>
<text x="369.40" y="341.28" font-size="6.38" fill="#1a1a1a" text-anchor="end" stroke="#1a1a1a" stroke-width="0.12">Unfolded protein response</text>
<rect x="375.50" y="343.62" width="24.55" height="9.98" fill="#e9ebf1"/>
<rect x="399.75" y="343.62" width="24.55" height="9.98" fill="#f7f8fb"/>
<rect x="424.00" y="343.62" width="24.55" height="9.98" fill="#d9dee7"/>
<line x1="372.70" y1="348.46" x2="375.50" y2="348.46" stroke="#000" stroke-width="0.9"/>
<text x="369.40" y="350.96" font-size="6.38" fill="#1a1a1a" text-anchor="end" stroke="#1a1a1a" stroke-width="0.12">TGFβ signaling</text>
<rect x="375.50" y="62.90" width="72.75" height="290.40" fill="none" stroke="#000" stroke-width="1.2"/>
<line x1="387.62" y1="58.90" x2="387.62" y2="62.90" stroke="#000" stroke-width="0.9"/>
<text x="0" y="0" font-size="6.6" fill="#222" stroke="#222" stroke-width="0.1" transform="translate(387.82,56.10) rotate(-45)">actTregs</text>
<line x1="411.88" y1="58.90" x2="411.88" y2="62.90" stroke="#000" stroke-width="0.9"/>
<text x="0" y="0" font-size="6.6" fill="#222" stroke="#222" stroke-width="0.1" transform="translate(412.07,56.10) rotate(-45)">restTregs</text>
<line x1="436.12" y1="58.90" x2="436.12" y2="62.90" stroke="#000" stroke-width="0.9"/>
<text x="0" y="0" font-size="6.6" fill="#222" stroke="#222" stroke-width="0.1" transform="translate(437.93,56.10) rotate(-45)">LAG3<tspan font-size="4" dy="-2.4">+</tspan><tspan dy="2.4"> Tregs</tspan></text>
<text x="457.60" y="306.30" font-size="6.4" fill="#222" textLength="49.20" lengthAdjust="spacingAndGlyphs" stroke="#222" stroke-width="0.1">Enrichment score</text>
<rect x="457.00" y="310.10" width="7.80" height="42.50" fill="url(#gd)"/>
<line x1="457.00" y1="320.30" x2="458.80" y2="320.30" stroke="#3c4f75" stroke-width="0.6"/>
<line x1="463.00" y1="320.30" x2="464.80" y2="320.30" stroke="#3c4f75" stroke-width="0.6"/>
<text x="469.10" y="322.30" font-size="6.4" fill="#222" stroke="#222" stroke-width="0.1">15</text>
<line x1="457.00" y1="330.60" x2="458.80" y2="330.60" stroke="#3c4f75" stroke-width="0.6"/>
<line x1="463.00" y1="330.60" x2="464.80" y2="330.60" stroke="#3c4f75" stroke-width="0.6"/>
<text x="469.10" y="332.60" font-size="6.4" fill="#222" stroke="#222" stroke-width="0.1">10</text>
<line x1="457.00" y1="341.60" x2="458.80" y2="341.60" stroke="#3c4f75" stroke-width="0.6"/>
<line x1="463.00" y1="341.60" x2="464.80" y2="341.60" stroke="#3c4f75" stroke-width="0.6"/>
<text x="469.10" y="343.60" font-size="6.4" fill="#222" stroke="#222" stroke-width="0.1">5</text>
<text x="469.10" y="354.40" font-size="6.4" fill="#222" stroke="#222" stroke-width="0.1">0</text>
<rect x="0.65" y="0.65" width="518.70" height="507.70" fill="none" stroke="#3a3a3a" stroke-width="1.3"/>
</svg></body></html>
